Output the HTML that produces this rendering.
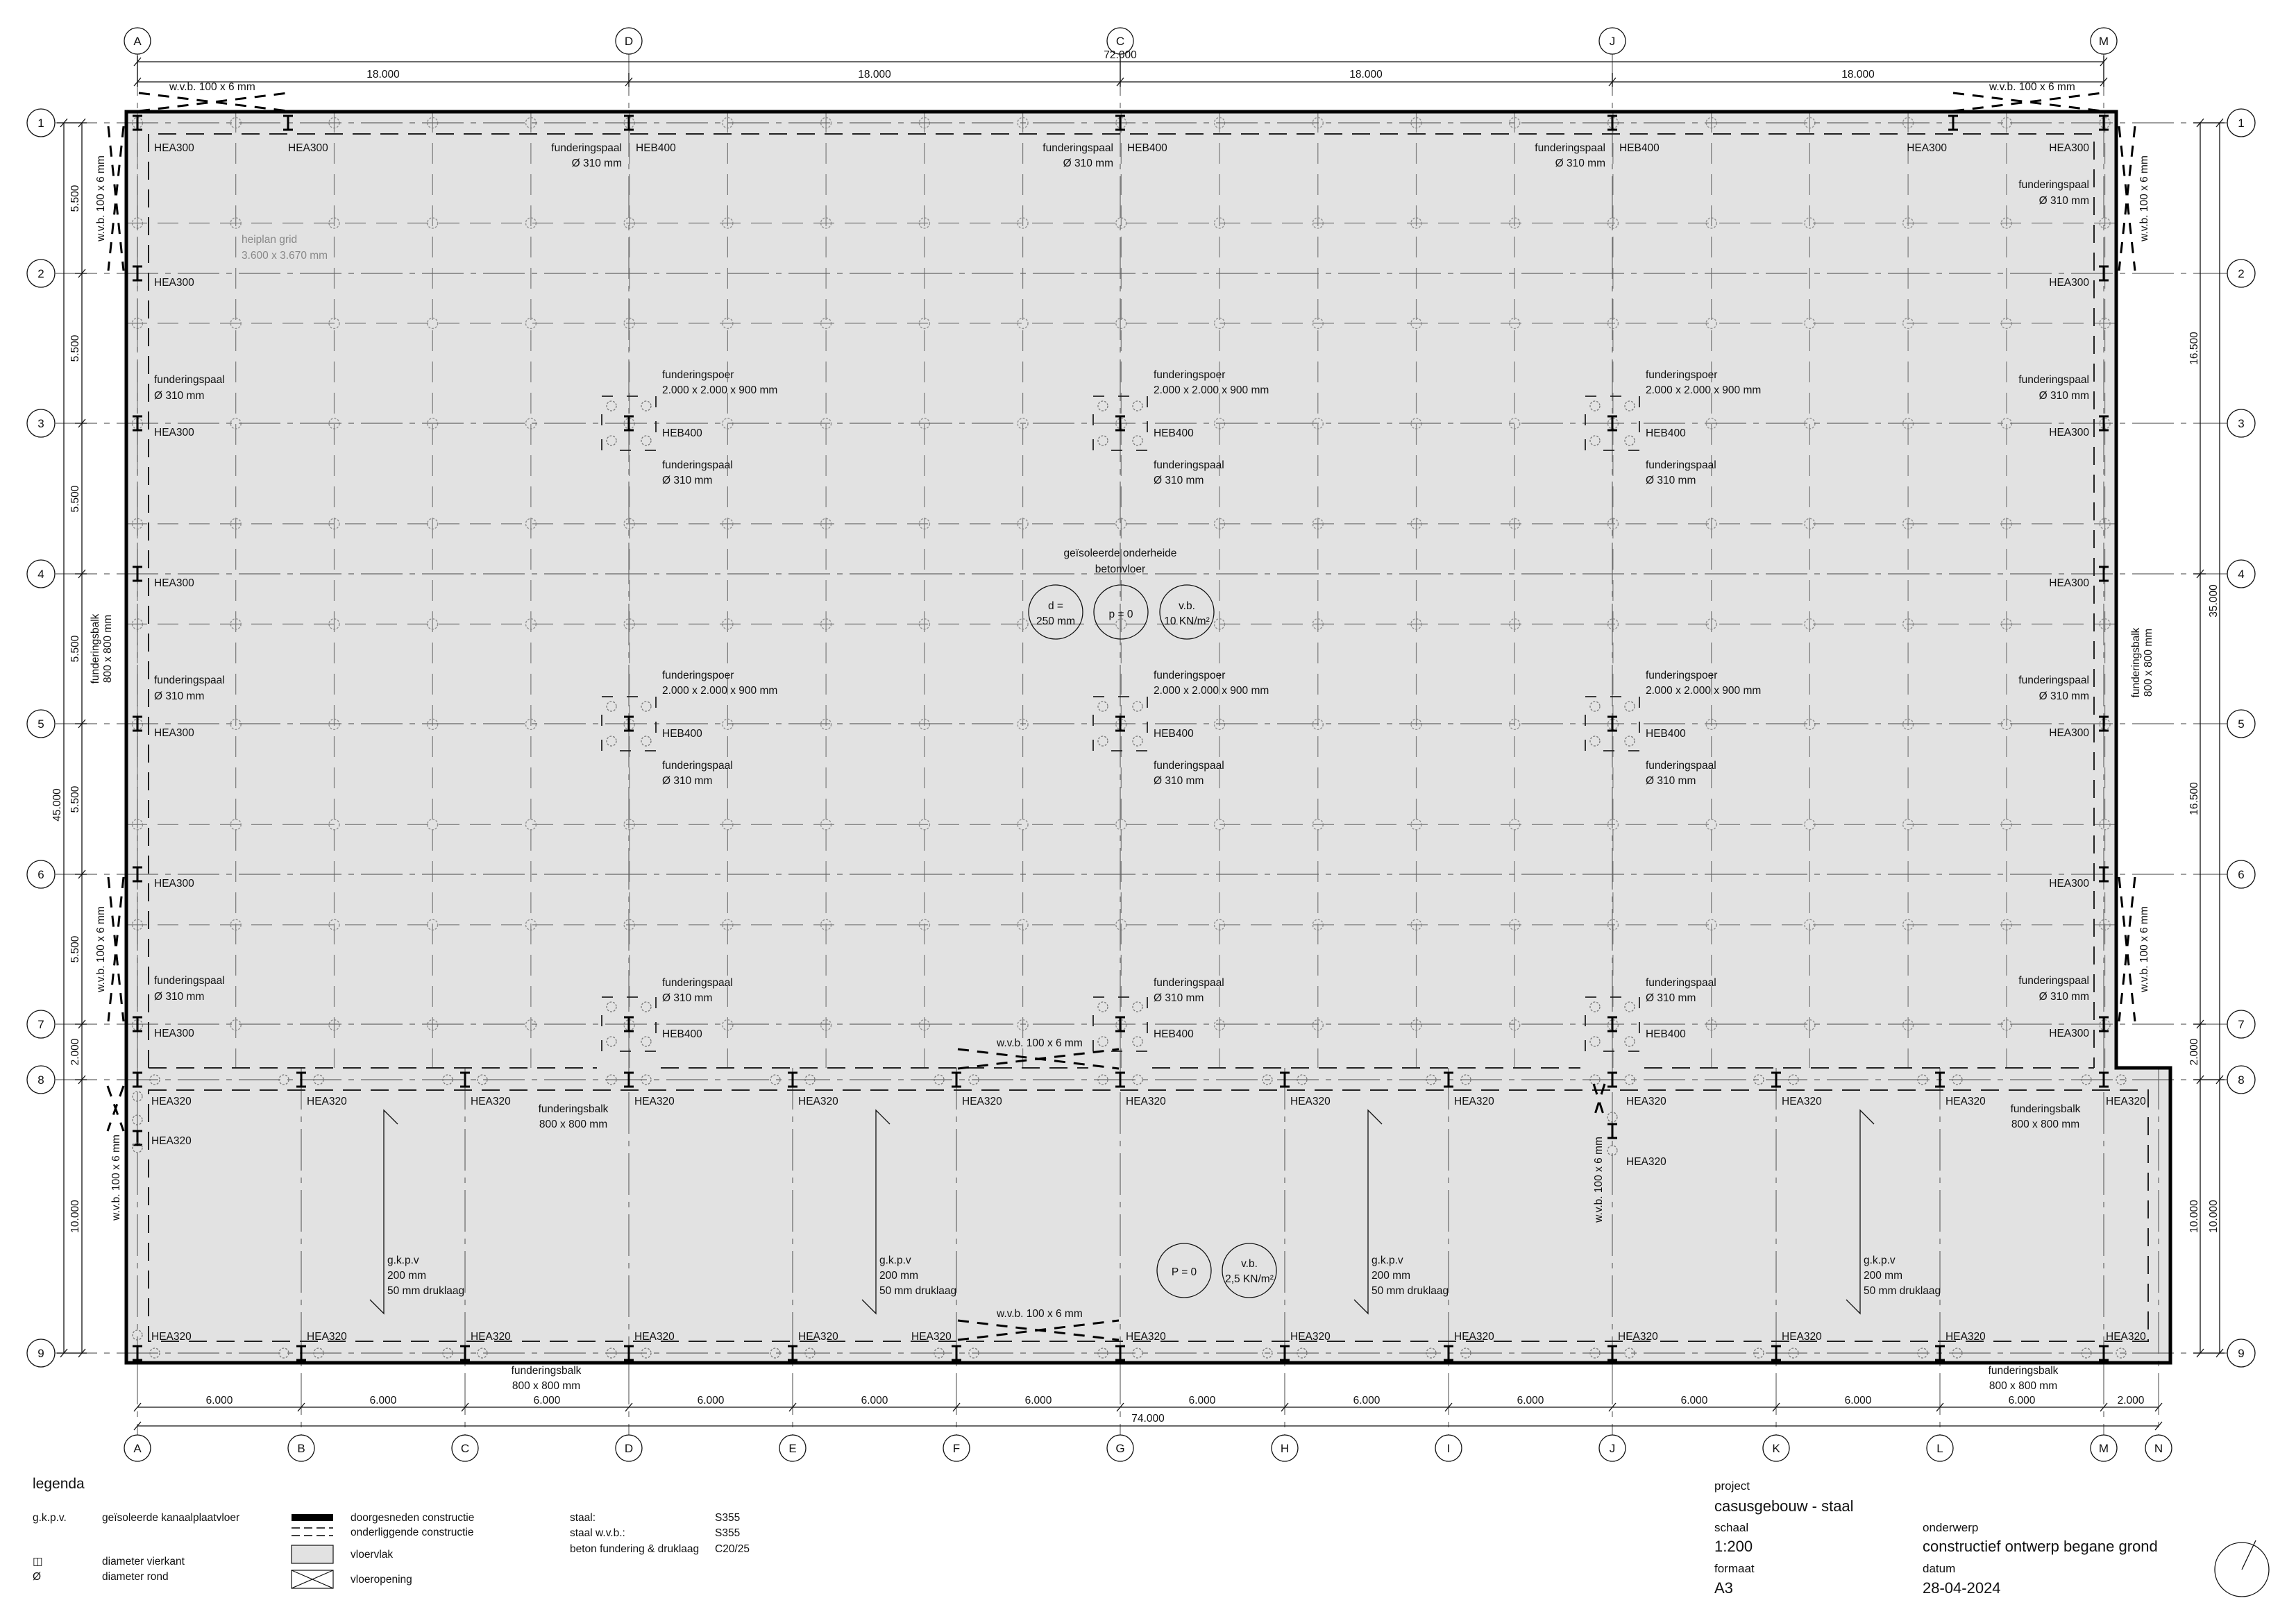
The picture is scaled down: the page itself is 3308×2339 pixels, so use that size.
<!DOCTYPE html>
<html><head><meta charset="utf-8"><style>
html,body{margin:0;padding:0;background:#fff}
svg{display:block}
text{font-family:"Liberation Sans Narrow","Liberation Sans",sans-serif;fill:#111}
.s{font-size:15.5px}
.m{font-size:17px}
.l{font-size:21px}
.ax{stroke:#666;stroke-width:1.2;fill:none;stroke-dasharray:60 10 8 10}
.hp{stroke:#7a7a7a;stroke-width:1.2;fill:none;stroke-dasharray:30 15}
.fd{stroke:#222;stroke-width:2;fill:none;stroke-dasharray:26 14}
.dm{stroke:#111;stroke-width:1.3;fill:none}
.wv{stroke:#000;stroke-width:3;fill:none;stroke-dasharray:16 12}
.c{text-anchor:middle}
.e{text-anchor:end}
</style></head><body>
<svg width="3308" height="2339" viewBox="0 0 3308 2339" xmlns="http://www.w3.org/2000/svg">
<defs>
<symbol id="ib" overflow="visible"><path d="M-7,-10H7M0,-10V10M-7,10H7" stroke="#000" stroke-width="3" fill="none"/></symbol>
<symbol id="pc" overflow="visible"><circle r="7" fill="none" stroke="#777" stroke-width="1.3" stroke-dasharray="3 2"/></symbol>
<symbol id="tk" overflow="visible"><path d="M-5,6L5,-6" stroke="#111" stroke-width="1.3"/></symbol>
<pattern id="hc" patternUnits="userSpaceOnUse" x="127.135" y="104.765" width="141.73" height="144.47">
<circle cx="70.865" cy="72.235" r="7.5" fill="none" stroke="#888" stroke-width="1.3" stroke-dasharray="3 2"/>
</pattern>
</defs>

<path d="M182,161H3049V1539H3127V1964H182Z" fill="#e2e2e2" stroke="none"/>

<g class="hp">
<path d="M198,161V1539M339.7,161V1539M481.5,161V1539M623.2,161V1539M764.9,161V1539M906.7,161V1539M1048.4,161V1539M1190.1,161V1539M1331.8,161V1539M1473.6,161V1539M1615.3,161V1539M1757,161V1539M1898.8,161V1539M2040.5,161V1539M2182.2,161V1539M2323.9,161V1539M2465.7,161V1539M2607.4,161V1539M2749.1,161V1539M2890.9,161V1539M3032.6,161V1539"/>
<path d="M182,321.5H3049M182,465.9H3049M182,754.9H3049M182,899.4H3049M182,1188.3H3049M182,1332.8H3049"/>
</g>
<rect x="185" y="165" width="2860" height="1325" fill="url(#hc)"/>

<g class="ax">
<path d="M80,177H3210M80,394H3210M80,610H3210M80,827H3210M80,1043H3210M80,1260H3210M80,1476H3210M80,1556H3210M80,1950H3210"/>
<path d="M198,78V1964M906,78V1964M1614,78V1964M2323,78V1964M3031,78V1964"/>
<path d="M434,1539V2068M670,1539V2068M1142,1539V2068M1378,1539V2068M1851,1539V2068M2087,1539V2068M2559,1539V2068M2795,1539V2068M3110,1539V2068M198,1964V2068M906,1964V2068M1614,1964V2068M2323,1964V2068M3031,1964V2068"/>
</g>

<g class="fd">
<path d="M214,1539V193H3017V1539"/>
<path d="M214,1539H860M952,1539H1568M1660,1539H2277M2369,1539H3017"/>
<rect x="214" y="1571" width="2881" height="362"/>
</g>

<path d="M182,161H3049V1539H3127V1964H182Z" fill="none" stroke="#000" stroke-width="5"/>

<g>
<g transform="translate(906,610)"><rect x="-39" y="-39" width="78" height="78" fill="none" stroke="#222" stroke-width="1.8" stroke-dasharray="16 20 16 26"/><use href="#pc" x="-25" y="-25"/><use href="#pc" x="25" y="-25"/><use href="#pc" x="-25" y="25"/><use href="#pc" x="25" y="25"/></g>
<g transform="translate(1614,610)"><rect x="-39" y="-39" width="78" height="78" fill="none" stroke="#222" stroke-width="1.8" stroke-dasharray="16 20 16 26"/><use href="#pc" x="-25" y="-25"/><use href="#pc" x="25" y="-25"/><use href="#pc" x="-25" y="25"/><use href="#pc" x="25" y="25"/></g>
<g transform="translate(2323,610)"><rect x="-39" y="-39" width="78" height="78" fill="none" stroke="#222" stroke-width="1.8" stroke-dasharray="16 20 16 26"/><use href="#pc" x="-25" y="-25"/><use href="#pc" x="25" y="-25"/><use href="#pc" x="-25" y="25"/><use href="#pc" x="25" y="25"/></g>
<g transform="translate(906,1043)"><rect x="-39" y="-39" width="78" height="78" fill="none" stroke="#222" stroke-width="1.8" stroke-dasharray="16 20 16 26"/><use href="#pc" x="-25" y="-25"/><use href="#pc" x="25" y="-25"/><use href="#pc" x="-25" y="25"/><use href="#pc" x="25" y="25"/></g>
<g transform="translate(1614,1043)"><rect x="-39" y="-39" width="78" height="78" fill="none" stroke="#222" stroke-width="1.8" stroke-dasharray="16 20 16 26"/><use href="#pc" x="-25" y="-25"/><use href="#pc" x="25" y="-25"/><use href="#pc" x="-25" y="25"/><use href="#pc" x="25" y="25"/></g>
<g transform="translate(2323,1043)"><rect x="-39" y="-39" width="78" height="78" fill="none" stroke="#222" stroke-width="1.8" stroke-dasharray="16 20 16 26"/><use href="#pc" x="-25" y="-25"/><use href="#pc" x="25" y="-25"/><use href="#pc" x="-25" y="25"/><use href="#pc" x="25" y="25"/></g>
<g transform="translate(906,1476)"><rect x="-39" y="-39" width="78" height="78" fill="none" stroke="#222" stroke-width="1.8" stroke-dasharray="16 20 16 26"/><use href="#pc" x="-25" y="-25"/><use href="#pc" x="25" y="-25"/><use href="#pc" x="-25" y="25"/><use href="#pc" x="25" y="25"/></g>
<g transform="translate(1614,1476)"><rect x="-39" y="-39" width="78" height="78" fill="none" stroke="#222" stroke-width="1.8" stroke-dasharray="16 20 16 26"/><use href="#pc" x="-25" y="-25"/><use href="#pc" x="25" y="-25"/><use href="#pc" x="-25" y="25"/><use href="#pc" x="25" y="25"/></g>
<g transform="translate(2323,1476)"><rect x="-39" y="-39" width="78" height="78" fill="none" stroke="#222" stroke-width="1.8" stroke-dasharray="16 20 16 26"/><use href="#pc" x="-25" y="-25"/><use href="#pc" x="25" y="-25"/><use href="#pc" x="-25" y="25"/><use href="#pc" x="25" y="25"/></g>
</g>

<g>
<use href="#ib" x="198" y="177"/><use href="#ib" x="198" y="394"/><use href="#ib" x="198" y="610"/><use href="#ib" x="198" y="827"/><use href="#ib" x="198" y="1043"/><use href="#ib" x="198" y="1260"/><use href="#ib" x="198" y="1476"/>
<use href="#ib" x="3031" y="177"/><use href="#ib" x="3031" y="394"/><use href="#ib" x="3031" y="610"/><use href="#ib" x="3031" y="827"/><use href="#ib" x="3031" y="1043"/><use href="#ib" x="3031" y="1260"/><use href="#ib" x="3031" y="1476"/>
<use href="#ib" x="415" y="177"/><use href="#ib" x="2814" y="177"/>
<use href="#ib" x="906" y="177"/><use href="#ib" x="1614" y="177"/><use href="#ib" x="2323" y="177"/>
<use href="#ib" x="906" y="610"/><use href="#ib" x="1614" y="610"/><use href="#ib" x="2323" y="610"/>
<use href="#ib" x="906" y="1043"/><use href="#ib" x="1614" y="1043"/><use href="#ib" x="2323" y="1043"/>
<use href="#ib" x="906" y="1476"/><use href="#ib" x="1614" y="1476"/><use href="#ib" x="2323" y="1476"/>
<use href="#ib" x="198" y="1556"/><use href="#ib" x="434" y="1556"/><use href="#ib" x="670" y="1556"/><use href="#ib" x="906" y="1556"/><use href="#ib" x="1142" y="1556"/><use href="#ib" x="1378" y="1556"/><use href="#ib" x="1614" y="1556"/><use href="#ib" x="1851" y="1556"/><use href="#ib" x="2087" y="1556"/><use href="#ib" x="2323" y="1556"/><use href="#ib" x="2559" y="1556"/><use href="#ib" x="2795" y="1556"/><use href="#ib" x="3031" y="1556"/>
<use href="#ib" x="198" y="1950"/><use href="#ib" x="434" y="1950"/><use href="#ib" x="670" y="1950"/><use href="#ib" x="906" y="1950"/><use href="#ib" x="1142" y="1950"/><use href="#ib" x="1378" y="1950"/><use href="#ib" x="1614" y="1950"/><use href="#ib" x="1851" y="1950"/><use href="#ib" x="2087" y="1950"/><use href="#ib" x="2323" y="1950"/><use href="#ib" x="2559" y="1950"/><use href="#ib" x="2795" y="1950"/><use href="#ib" x="3031" y="1950"/>
<use href="#ib" x="198" y="1640"/><use href="#ib" x="2323" y="1630"/>
</g>

<g>
<use href="#pc" x="223" y="1556"/><use href="#pc" x="409" y="1556"/><use href="#pc" x="459" y="1556"/><use href="#pc" x="645" y="1556"/><use href="#pc" x="695" y="1556"/><use href="#pc" x="881" y="1556"/><use href="#pc" x="931" y="1556"/><use href="#pc" x="1117" y="1556"/><use href="#pc" x="1167" y="1556"/><use href="#pc" x="1353" y="1556"/><use href="#pc" x="1403" y="1556"/><use href="#pc" x="1589" y="1556"/><use href="#pc" x="1639" y="1556"/><use href="#pc" x="1826" y="1556"/><use href="#pc" x="1876" y="1556"/><use href="#pc" x="2062" y="1556"/><use href="#pc" x="2112" y="1556"/><use href="#pc" x="2298" y="1556"/><use href="#pc" x="2348" y="1556"/><use href="#pc" x="2534" y="1556"/><use href="#pc" x="2584" y="1556"/><use href="#pc" x="2770" y="1556"/><use href="#pc" x="2820" y="1556"/><use href="#pc" x="3006" y="1556"/><use href="#pc" x="3056" y="1556"/>
<use href="#pc" x="223" y="1950"/><use href="#pc" x="409" y="1950"/><use href="#pc" x="459" y="1950"/><use href="#pc" x="645" y="1950"/><use href="#pc" x="695" y="1950"/><use href="#pc" x="881" y="1950"/><use href="#pc" x="931" y="1950"/><use href="#pc" x="1117" y="1950"/><use href="#pc" x="1167" y="1950"/><use href="#pc" x="1353" y="1950"/><use href="#pc" x="1403" y="1950"/><use href="#pc" x="1589" y="1950"/><use href="#pc" x="1639" y="1950"/><use href="#pc" x="1826" y="1950"/><use href="#pc" x="1876" y="1950"/><use href="#pc" x="2062" y="1950"/><use href="#pc" x="2112" y="1950"/><use href="#pc" x="2298" y="1950"/><use href="#pc" x="2348" y="1950"/><use href="#pc" x="2534" y="1950"/><use href="#pc" x="2584" y="1950"/><use href="#pc" x="2770" y="1950"/><use href="#pc" x="2820" y="1950"/><use href="#pc" x="3006" y="1950"/><use href="#pc" x="3056" y="1950"/>
<use href="#pc" x="198" y="1580"/><use href="#pc" x="198" y="1614"/><use href="#pc" x="198" y="1654"/><use href="#pc" x="198" y="1924"/><use href="#pc" x="2323" y="1610"/><use href="#pc" x="2323" y="1658"/>
</g>

<g class="wv">
<path d="M200,134L415,160M200,160L415,134"/>
<path d="M2814,134L3029,160M2814,160L3029,134"/>
<path d="M156,182L178,390M178,182L156,390"/>
<path d="M156,1264L178,1472M178,1264L156,1472"/>
<path d="M155,1565L178,1630M178,1565L155,1630"/>
<path d="M3053,182L3076,390M3076,182L3053,390"/>
<path d="M3053,1264L3076,1472M3076,1264L3053,1472"/>
<path d="M1380,1512L1612,1540M1380,1540L1612,1512"/>
<path d="M1380,1903L1612,1931M1380,1931L1612,1903"/>
<path d="M2296,1562L2312,1612M2312,1562L2296,1612"/>
</g>

<g stroke="#111" stroke-width="1.3" fill="none">
<path d="M573,1620L553,1600V1893L533,1873"/>
<path d="M1282,1620L1262,1600V1893L1242,1873"/>
<path d="M1991,1620L1971,1600V1893L1951,1873"/>
<path d="M2700,1620L2680,1600V1893L2660,1873"/>
</g>

<g fill="none" stroke="#111" stroke-width="1.3">
<circle cx="1521" cy="882" r="39"/><circle cx="1615" cy="882" r="39"/><circle cx="1710" cy="882" r="39"/>
<circle cx="1706" cy="1831" r="39"/><circle cx="1800" cy="1831" r="39"/>
</g>

<g class="dm">
<path d="M198,89H3031M198,118H3031M198,80V125M906,105V125M1614,80V125M2323,105V125M3031,80V125"/>
<path d="M92,177V1950M118,177V1950M82,177H125M82,1950H125M108,394H125M108,610H125M108,827H125M108,1043H125M108,1260H125M108,1476H125M108,1556H125"/>
<path d="M3170,177V1950M3198,177V1950M3160,177H3205M3160,1950H3205M3160,827H3178M3160,1476H3178M3160,1556H3205"/>
<path d="M198,2028H3110M198,2055H3110"/>
</g>
<g>
<use href="#tk" x="198" y="89"/><use href="#tk" x="3031" y="89"/><use href="#tk" x="198" y="118"/><use href="#tk" x="906" y="118"/><use href="#tk" x="1614" y="118"/><use href="#tk" x="2323" y="118"/><use href="#tk" x="3031" y="118"/>
<use href="#tk" x="92" y="177"/><use href="#tk" x="92" y="1950"/><use href="#tk" x="118" y="177"/><use href="#tk" x="118" y="394"/><use href="#tk" x="118" y="610"/><use href="#tk" x="118" y="827"/><use href="#tk" x="118" y="1043"/><use href="#tk" x="118" y="1260"/><use href="#tk" x="118" y="1476"/><use href="#tk" x="118" y="1556"/><use href="#tk" x="118" y="1950"/>
<use href="#tk" x="3170" y="177"/><use href="#tk" x="3170" y="827"/><use href="#tk" x="3170" y="1476"/><use href="#tk" x="3170" y="1556"/><use href="#tk" x="3170" y="1950"/><use href="#tk" x="3198" y="177"/><use href="#tk" x="3198" y="1556"/><use href="#tk" x="3198" y="1950"/>
<use href="#tk" x="198" y="2028"/><use href="#tk" x="434" y="2028"/><use href="#tk" x="670" y="2028"/><use href="#tk" x="906" y="2028"/><use href="#tk" x="1142" y="2028"/><use href="#tk" x="1378" y="2028"/><use href="#tk" x="1614" y="2028"/><use href="#tk" x="1851" y="2028"/><use href="#tk" x="2087" y="2028"/><use href="#tk" x="2323" y="2028"/><use href="#tk" x="2559" y="2028"/><use href="#tk" x="2795" y="2028"/><use href="#tk" x="3031" y="2028"/><use href="#tk" x="3110" y="2028"/>
<use href="#tk" x="198" y="2055"/><use href="#tk" x="3110" y="2055"/>
</g>

<g fill="#fff" stroke="#111" stroke-width="1.3">
<circle cx="198" cy="59" r="19"/><circle cx="906" cy="59" r="19"/><circle cx="1614" cy="59" r="19"/><circle cx="2323" cy="59" r="19"/><circle cx="3031" cy="59" r="19"/>
<circle cx="59" cy="177" r="20"/><circle cx="59" cy="394" r="20"/><circle cx="59" cy="610" r="20"/><circle cx="59" cy="827" r="20"/><circle cx="59" cy="1043" r="20"/><circle cx="59" cy="1260" r="20"/><circle cx="59" cy="1476" r="20"/><circle cx="59" cy="1556" r="20"/><circle cx="59" cy="1950" r="20"/>
<circle cx="3229" cy="177" r="20"/><circle cx="3229" cy="394" r="20"/><circle cx="3229" cy="610" r="20"/><circle cx="3229" cy="827" r="20"/><circle cx="3229" cy="1043" r="20"/><circle cx="3229" cy="1260" r="20"/><circle cx="3229" cy="1476" r="20"/><circle cx="3229" cy="1556" r="20"/><circle cx="3229" cy="1950" r="20"/>
<circle cx="198" cy="2087" r="19"/><circle cx="434" cy="2087" r="19"/><circle cx="670" cy="2087" r="19"/><circle cx="906" cy="2087" r="19"/><circle cx="1142" cy="2087" r="19"/><circle cx="1378" cy="2087" r="19"/><circle cx="1614" cy="2087" r="19"/><circle cx="1851" cy="2087" r="19"/><circle cx="2087" cy="2087" r="19"/><circle cx="2323" cy="2087" r="19"/><circle cx="2559" cy="2087" r="19"/><circle cx="2795" cy="2087" r="19"/><circle cx="3031" cy="2087" r="19"/><circle cx="3110" cy="2087" r="19"/>
</g>
<g class="m c">
<text x="198" y="65">A</text><text x="906" y="65">D</text><text x="1614" y="65">C</text><text x="2323" y="65">J</text><text x="3031" y="65">M</text>
<text x="59" y="183">1</text><text x="59" y="400">2</text><text x="59" y="616">3</text><text x="59" y="833">4</text><text x="59" y="1049">5</text><text x="59" y="1266">6</text><text x="59" y="1482">7</text><text x="59" y="1562">8</text><text x="59" y="1956">9</text>
<text x="3229" y="183">1</text><text x="3229" y="400">2</text><text x="3229" y="616">3</text><text x="3229" y="833">4</text><text x="3229" y="1049">5</text><text x="3229" y="1266">6</text><text x="3229" y="1482">7</text><text x="3229" y="1562">8</text><text x="3229" y="1956">9</text>
<text x="198" y="2093">A</text><text x="434" y="2093">B</text><text x="670" y="2093">C</text><text x="906" y="2093">D</text><text x="1142" y="2093">E</text><text x="1378" y="2093">F</text><text x="1614" y="2093">G</text><text x="1851" y="2093">H</text><text x="2087" y="2093">I</text><text x="2323" y="2093">J</text><text x="2559" y="2093">K</text><text x="2795" y="2093">L</text><text x="3031" y="2093">M</text><text x="3110" y="2093">N</text>
</g>

<g class="s c">
<text x="1614" y="84">72.000</text>
<text x="552" y="112">18.000</text><text x="1260" y="112">18.000</text><text x="1968" y="112">18.000</text><text x="2677" y="112">18.000</text>
<text x="316" y="2023">6.000</text><text x="552" y="2023">6.000</text><text x="788" y="2023">6.000</text><text x="1024" y="2023">6.000</text><text x="1260" y="2023">6.000</text><text x="1496" y="2023">6.000</text><text x="1732" y="2023">6.000</text><text x="1969" y="2023">6.000</text><text x="2205" y="2023">6.000</text><text x="2441" y="2023">6.000</text><text x="2677" y="2023">6.000</text><text x="2913" y="2023">6.000</text><text x="3070" y="2023">2.000</text>
<text x="1654" y="2049">74.000</text>
<text transform="translate(87,1160) rotate(-90)">45.000</text>
<text transform="translate(113,286) rotate(-90)">5.500</text><text transform="translate(113,502) rotate(-90)">5.500</text><text transform="translate(113,719) rotate(-90)">5.500</text><text transform="translate(113,935) rotate(-90)">5.500</text><text transform="translate(113,1152) rotate(-90)">5.500</text><text transform="translate(113,1368) rotate(-90)">5.500</text><text transform="translate(113,1516) rotate(-90)">2.000</text><text transform="translate(113,1753) rotate(-90)">10.000</text>
<text transform="translate(3166,502) rotate(-90)">16.500</text><text transform="translate(3166,1151) rotate(-90)">16.500</text><text transform="translate(3166,1516) rotate(-90)">2.000</text><text transform="translate(3166,1753) rotate(-90)">10.000</text>
<text transform="translate(3194,866) rotate(-90)">35.000</text><text transform="translate(3194,1753) rotate(-90)">10.000</text>
</g>

<g class="s">
<text x="244" y="130">w.v.b. 100 x 6 mm</text>
<text x="2866" y="130">w.v.b. 100 x 6 mm</text>
<text x="1436" y="1508">w.v.b. 100 x 6 mm</text>
<text x="1436" y="1898">w.v.b. 100 x 6 mm</text>
<text class="c" transform="translate(150,286) rotate(-90)">w.v.b. 100 x 6 mm</text>
<text class="c" transform="translate(150,1368) rotate(-90)">w.v.b. 100 x 6 mm</text>
<text class="c" transform="translate(172,1697) rotate(-90)">w.v.b. 100 x 6 mm</text>
<text class="c" transform="translate(2308,1700) rotate(-90)">w.v.b. 100 x 6 mm</text>
<text class="c" transform="translate(3094,286) rotate(-90)">w.v.b. 100 x 6 mm</text>
<text class="c" transform="translate(3094,1368) rotate(-90)">w.v.b. 100 x 6 mm</text>
<text class="c" transform="translate(142,935) rotate(-90)">funderingsbalk</text>
<text class="c" transform="translate(160,935) rotate(-90)">800 x 800 mm</text>
<text class="c" transform="translate(3082,955) rotate(-90)">funderingsbalk</text>
<text class="c" transform="translate(3100,955) rotate(-90)">800 x 800 mm</text>
</g>

<text class="s" x="348" y="350" style="fill:#888">heiplan grid</text>
<text class="s" x="348" y="373" style="fill:#888">3.600 x 3.670 mm</text>

<g class="s">
<text x="222" y="218">HEA300</text><text x="415" y="218">HEA300</text>
<text x="222" y="412">HEA300</text>
<text x="222" y="552">funderingspaal</text><text x="222" y="575">Ø 310 mm</text><text x="222" y="628">HEA300</text>
<text x="222" y="845">HEA300</text>
<text x="222" y="985">funderingspaal</text><text x="222" y="1008">Ø 310 mm</text><text x="222" y="1061">HEA300</text>
<text x="222" y="1278">HEA300</text>
<text x="222" y="1418">funderingspaal</text><text x="222" y="1441">Ø 310 mm</text><text x="222" y="1494">HEA300</text>
</g>
<g class="s e">
<text x="3010" y="218">HEA300</text><text x="2805" y="218">HEA300</text>
<text x="3010" y="271">funderingspaal</text><text x="3010" y="294">Ø 310 mm</text>
<text x="3010" y="412">HEA300</text>
<text x="3010" y="552">funderingspaal</text><text x="3010" y="575">Ø 310 mm</text><text x="3010" y="628">HEA300</text>
<text x="3010" y="845">HEA300</text>
<text x="3010" y="985">funderingspaal</text><text x="3010" y="1008">Ø 310 mm</text><text x="3010" y="1061">HEA300</text>
<text x="3010" y="1278">HEA300</text>
<text x="3010" y="1418">funderingspaal</text><text x="3010" y="1441">Ø 310 mm</text><text x="3010" y="1494">HEA300</text>
<text x="896" y="218">funderingspaal</text><text x="896" y="240">Ø 310 mm</text>
<text x="1604" y="218">funderingspaal</text><text x="1604" y="240">Ø 310 mm</text>
<text x="2313" y="218">funderingspaal</text><text x="2313" y="240">Ø 310 mm</text>
</g>
<g class="s">
<text x="916" y="218">HEB400</text><text x="1624" y="218">HEB400</text><text x="2333" y="218">HEB400</text>
<text x="954" y="545">funderingspoer</text><text x="954" y="567">2.000 x 2.000 x 900 mm</text><text x="954" y="629">HEB400</text><text x="954" y="675">funderingspaal</text><text x="954" y="697">Ø 310 mm</text>
<text x="1662" y="545">funderingspoer</text><text x="1662" y="567">2.000 x 2.000 x 900 mm</text><text x="1662" y="629">HEB400</text><text x="1662" y="675">funderingspaal</text><text x="1662" y="697">Ø 310 mm</text>
<text x="2371" y="545">funderingspoer</text><text x="2371" y="567">2.000 x 2.000 x 900 mm</text><text x="2371" y="629">HEB400</text><text x="2371" y="675">funderingspaal</text><text x="2371" y="697">Ø 310 mm</text>
<text x="954" y="978">funderingspoer</text><text x="954" y="1000">2.000 x 2.000 x 900 mm</text><text x="954" y="1062">HEB400</text><text x="954" y="1108">funderingspaal</text><text x="954" y="1130">Ø 310 mm</text>
<text x="1662" y="978">funderingspoer</text><text x="1662" y="1000">2.000 x 2.000 x 900 mm</text><text x="1662" y="1062">HEB400</text><text x="1662" y="1108">funderingspaal</text><text x="1662" y="1130">Ø 310 mm</text>
<text x="2371" y="978">funderingspoer</text><text x="2371" y="1000">2.000 x 2.000 x 900 mm</text><text x="2371" y="1062">HEB400</text><text x="2371" y="1108">funderingspaal</text><text x="2371" y="1130">Ø 310 mm</text>
<text x="954" y="1421">funderingspaal</text><text x="954" y="1443">Ø 310 mm</text><text x="954" y="1495">HEB400</text>
<text x="1662" y="1421">funderingspaal</text><text x="1662" y="1443">Ø 310 mm</text><text x="1662" y="1495">HEB400</text>
<text x="2371" y="1421">funderingspaal</text><text x="2371" y="1443">Ø 310 mm</text><text x="2371" y="1495">HEB400</text>
</g>

<g class="s">
<text x="218" y="1592">HEA320</text><text x="442" y="1592">HEA320</text><text x="678" y="1592">HEA320</text><text x="914" y="1592">HEA320</text><text x="1150" y="1592">HEA320</text><text x="1386" y="1592">HEA320</text><text x="1622" y="1592">HEA320</text><text x="1859" y="1592">HEA320</text><text x="2095" y="1592">HEA320</text><text x="2343" y="1592">HEA320</text><text x="2567" y="1592">HEA320</text><text x="2803" y="1592">HEA320</text><text x="3034" y="1592">HEA320</text>
<text x="218" y="1649">HEA320</text><text x="2343" y="1679">HEA320</text>
<text x="218" y="1931">HEA320</text><text x="442" y="1931">HEA320</text><text x="678" y="1931">HEA320</text><text x="914" y="1931">HEA320</text><text x="1150" y="1931">HEA320</text><text x="1313" y="1931">HEA320</text><text x="1622" y="1931">HEA320</text><text x="1859" y="1931">HEA320</text><text x="2095" y="1931">HEA320</text><text x="2331" y="1931">HEA320</text><text x="2567" y="1931">HEA320</text><text x="2803" y="1931">HEA320</text><text x="3034" y="1931">HEA320</text>
<text x="558" y="1821">g.k.p.v</text><text x="558" y="1843">200 mm</text><text x="558" y="1865">50 mm druklaag</text>
<text x="1267" y="1821">g.k.p.v</text><text x="1267" y="1843">200 mm</text><text x="1267" y="1865">50 mm druklaag</text>
<text x="1976" y="1821">g.k.p.v</text><text x="1976" y="1843">200 mm</text><text x="1976" y="1865">50 mm druklaag</text>
<text x="2685" y="1821">g.k.p.v</text><text x="2685" y="1843">200 mm</text><text x="2685" y="1865">50 mm druklaag</text>
</g>
<g class="s c">
<text x="826" y="1603">funderingsbalk</text><text x="826" y="1625">800 x 800 mm</text>
<text x="2947" y="1603">funderingsbalk</text><text x="2947" y="1625">800 x 800 mm</text>
<text x="787" y="1980">funderingsbalk</text><text x="787" y="2002">800 x 800 mm</text>
<text x="2915" y="1980">funderingsbalk</text><text x="2915" y="2002">800 x 800 mm</text>
<text x="1614" y="802">geïsoleerde onderheide</text><text x="1614" y="825">betonvloer</text>
<text x="1521" y="878">d =</text><text x="1521" y="900">250 mm</text>
<text x="1615" y="890">p = 0</text>
<text x="1710" y="878">v.b.</text><text x="1710" y="900">10 KN/m²</text>
<text x="1706" y="1838">P = 0</text>
<text x="1800" y="1826">v.b.</text><text x="1800" y="1848">2,5 KN/m²</text>
</g>

<text class="l" x="47" y="2145">legenda</text>
<g class="s">
<text x="47" y="2192">g.k.p.v.</text><text x="147" y="2192">geïsoleerde kanaalplaatvloer</text>
<text x="47" y="2255">◫</text><text x="147" y="2255">diameter vierkant</text>
<text x="47" y="2277">Ø</text><text x="147" y="2277">diameter rond</text>
<text x="505" y="2192">doorgesneden constructie</text>
<text x="505" y="2213">onderliggende constructie</text>
<text x="505" y="2245">vloervlak</text>
<text x="505" y="2281">vloeropening</text>
<text x="821" y="2192">staal:</text><text x="1030" y="2192">S355</text>
<text x="821" y="2214">staal w.v.b.:</text><text x="1030" y="2214">S355</text>
<text x="821" y="2237">beton fundering &amp; druklaag</text><text x="1030" y="2237">C20/25</text>
</g>
<rect x="420" y="2182" width="60" height="10" fill="#000"/>
<path d="M420,2202H480M420,2213H480" stroke="#000" stroke-width="1.5" stroke-dasharray="12 6"/>
<rect x="420" y="2227" width="60" height="26" fill="#e2e2e2" stroke="#111" stroke-width="1.2"/>
<rect x="420" y="2263" width="60" height="26" fill="none" stroke="#111" stroke-width="1.2"/>
<path d="M420,2263L480,2289M480,2263L420,2289" stroke="#111" stroke-width="1.2"/>

<g class="m">
<text x="2470" y="2147">project</text>
<text x="2470" y="2178" style="font-size:22px">casusgebouw - staal</text>
<text x="2470" y="2207">schaal</text>
<text x="2470" y="2236" style="font-size:22px">1:200</text>
<text x="2470" y="2266">formaat</text>
<text x="2470" y="2296" style="font-size:22px">A3</text>
<text x="2770" y="2207">onderwerp</text>
<text x="2770" y="2236" style="font-size:22px">constructief ontwerp begane grond</text>
<text x="2770" y="2266">datum</text>
<text x="2770" y="2296" style="font-size:22px">28-04-2024</text>
</g>
<circle cx="3230" cy="2262" r="39" fill="none" stroke="#111" stroke-width="1.3"/>
<path d="M3230,2262L3250,2220" stroke="#111" stroke-width="1.3"/>
</svg>
</body></html>
